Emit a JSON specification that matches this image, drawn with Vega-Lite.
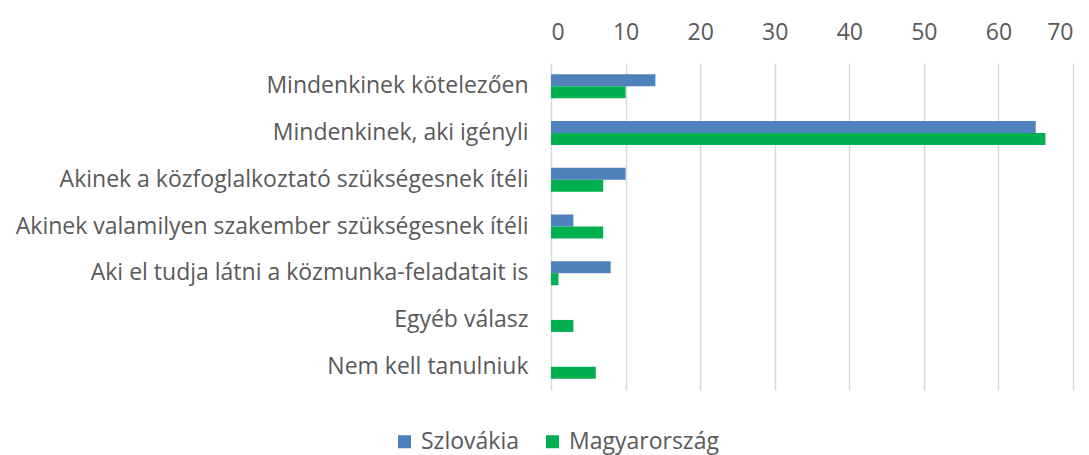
{
  "$schema": "https://vega.github.io/schema/vega-lite/v6.json",
  "autosize": {"type": "none"},
  "width": 522,
  "height": 327,
  "padding": {"left": 551, "top": 63, "right": 16, "bottom": 65},
  "background": "white",
  "config": {
    "view": {"stroke": null},
    "font": "Open Sans",
    "text": {"font": "Open Sans"}
  },
  "data": {
    "values": [
      {"kat": "Mindenkinek kötelezően", "orszag": "Szlovákia", "ertek": 14},
      {"kat": "Mindenkinek kötelezően", "orszag": "Magyarország", "ertek": 10},
      {"kat": "Mindenkinek, aki igényli", "orszag": "Szlovákia", "ertek": 65},
      {"kat": "Mindenkinek, aki igényli", "orszag": "Magyarország", "ertek": 66.3},
      {"kat": "Akinek a közfoglalkoztató szükségesnek ítéli", "orszag": "Szlovákia", "ertek": 10},
      {"kat": "Akinek a közfoglalkoztató szükségesnek ítéli", "orszag": "Magyarország", "ertek": 7},
      {"kat": "Akinek valamilyen szakember szükségesnek ítéli", "orszag": "Szlovákia", "ertek": 3},
      {"kat": "Akinek valamilyen szakember szükségesnek ítéli", "orszag": "Magyarország", "ertek": 7},
      {"kat": "Aki el tudja látni a közmunka-feladatait is", "orszag": "Szlovákia", "ertek": 8},
      {"kat": "Aki el tudja látni a közmunka-feladatait is", "orszag": "Magyarország", "ertek": 1},
      {"kat": "Egyéb válasz", "orszag": "Szlovákia", "ertek": 0},
      {"kat": "Egyéb válasz", "orszag": "Magyarország", "ertek": 3},
      {"kat": "Nem kell tanulniuk", "orszag": "Szlovákia", "ertek": 0},
      {"kat": "Nem kell tanulniuk", "orszag": "Magyarország", "ertek": 6}
    ]
  },
  "mark": {"type": "bar"},
  "encoding": {
    "y": {
      "field": "kat",
      "type": "nominal",
      "sort": null,
      "title": null,
      "scale": {"paddingInner": 0.486, "paddingOuter": 0.243},
      "axis": {
        "domain": false,
        "ticks": false,
        "labelPadding": 23,
        "labelLimit": 700,
        "labelFontSize": 23,
        "labelColor": "#595959",
        "labelFont": "Open Sans"
      }
    },
    "yOffset": {
      "field": "orszag",
      "type": "nominal",
      "sort": ["Szlovákia", "Magyarország"],
      "scale": {"paddingInner": 0, "paddingOuter": 0}
    },
    "x": {
      "field": "ertek",
      "type": "quantitative",
      "title": null,
      "scale": {"domain": [0, 70], "nice": false},
      "axis": {
        "orient": "top",
        "values": [0, 10, 20, 30, 40, 50, 60, 70],
        "domain": false,
        "ticks": false,
        "labelPadding": 19,
        "labelFontSize": 23,
        "labelColor": "#595959",
        "labelFont": "Open Sans",
        "grid": true,
        "gridColor": "#d9d9d9",
        "gridWidth": 1.5
      }
    },
    "color": {
      "field": "orszag",
      "type": "nominal",
      "sort": ["Szlovákia", "Magyarország"],
      "scale": {"domain": ["Szlovákia", "Magyarország"], "range": ["#4F81BD", "#00B050"]},
      "legend": {
        "title": null,
        "orient": "none",
        "direction": "horizontal",
        "legendX": -158,
        "legendY": 367,
        "symbolType": "square",
        "symbolSize": 169,
        "symbolStrokeWidth": 0,
        "labelFontSize": 23,
        "labelColor": "#595959",
        "labelFont": "Open Sans",
        "labelOffset": 5,
        "columnPadding": 22
      }
    }
  }
}
